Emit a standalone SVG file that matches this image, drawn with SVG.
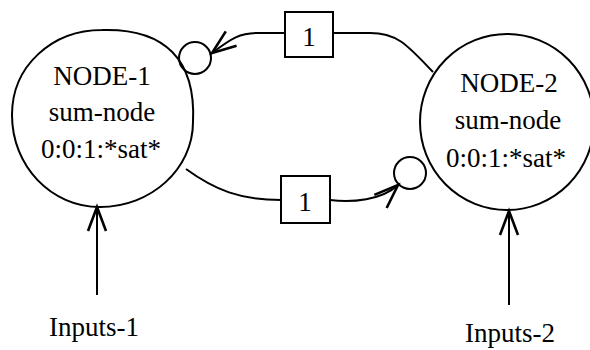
<svg xmlns="http://www.w3.org/2000/svg" width="590" height="350" viewBox="0 0 590 350">
<defs>
<style>
.shape{fill:none;stroke:#000;stroke-width:2}
.conn{fill:none;stroke:#000;stroke-width:2}
.t{font-family:"Liberation Serif","Times New Roman",serif;font-size:27px;fill:#000;text-anchor:middle}
</style>
<marker id="arr" markerUnits="userSpaceOnUse" markerWidth="30" markerHeight="24" viewBox="-26 -12 30 24" refX="0" refY="0" orient="auto" overflow="visible">
<path d="M-24,-9 L0,0 L-24,9" fill="none" stroke="#000" stroke-width="2.6"/>
</marker>
</defs>
<rect width="590" height="350" fill="#fff"/>
<g id="node-1">
<path class="shape" d="M102,30 C165,28 196,60 193,122 C193,169 151,207 100,207 C51,207 12,166 12,115 C12,66 52,30 102,30 Z"/>
<text class="t" x="102" y="85">NODE-1</text>
<text class="t" x="102" y="121">sum-node</text>
<text class="t" x="101" y="158">0:0:1:*sat*</text>
</g>
<g id="node-2">
<ellipse class="shape" cx="507" cy="122" rx="87" ry="88"/>
<text class="t" x="509" y="92">NODE-2</text>
<text class="t" x="508" y="129">sum-node</text>
<text class="t" x="506" y="167">0:0:1:*sat*</text>
</g>
<g id="delay-top">
<rect class="shape" x="285" y="12" width="48" height="45"/>
<text class="t" x="309" y="46">1</text>
</g>
<g id="delay-bottom">
<rect class="shape" x="281" y="176" width="49" height="47"/>
<text class="t" x="305" y="211">1</text>
</g>
<g id="sum-junction-1">
<circle class="shape" cx="195" cy="58" r="16"/>
</g>
<g id="sum-junction-2">
<circle class="shape" cx="410" cy="173" r="16"/>
</g>
<g id="inputs-1">
<text class="t" x="94" y="336">Inputs-1</text>
</g>
<g id="inputs-2">
<text class="t" x="510" y="342">Inputs-2</text>
</g>
<g id="connectors">
<path class="conn" d="M433,72 C408,46 398,33 370,33 L333,33"/>
<path class="conn" d="M285,33 L258,33 C240,33 232,38 212,53" marker-end="url(#arr)"/>
<path class="conn" d="M186,169 C215,190 240,200 281,200"/>
<path class="conn" d="M330,200 C352,203 382,200 398,185" marker-end="url(#arr)"/>
<path class="conn" d="M97,295 L97,207" marker-end="url(#arr)"/>
<path class="conn" d="M509,305 L509,211" marker-end="url(#arr)"/>
</g>
</svg>
